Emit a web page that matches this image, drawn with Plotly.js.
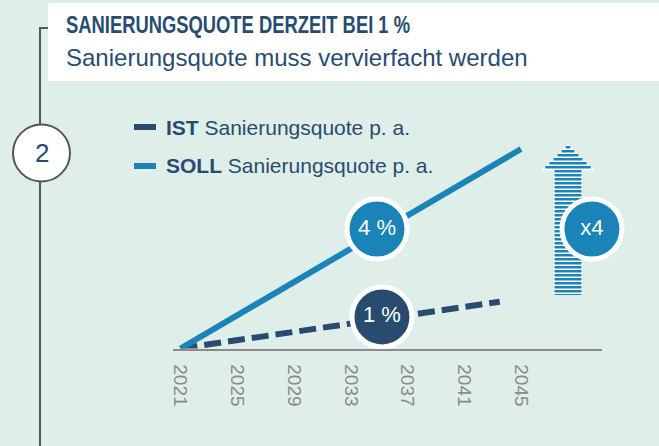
<!DOCTYPE html>
<html><head><meta charset="utf-8">
<script src="https://cdn.plot.ly/plotly-3.0.1.min.js"></script>
<style>html,body{margin:0;padding:0;background:#e0eee9;} #chart{width:659px;height:446px;}</style>
</head><body><div id="chart"></div>
<script>
// ---- data ----
const tickYears = [2021, 2025, 2029, 2033, 2037, 2041, 2045];
const tickLabels = ['2021', '2025', '2029', '2033', '2037', '2041', '2045'];
const istYears = [2021, 2043.5];
const istValues = [0, 22.5];
const sollYears = [2021, 2045];
const sollValues = [0, 96];
const bubbleLabels = ['4 %', '1 %', 'x4'];
const bubbleYears = [2034.85, 2035.2, 2050.0];
const bubbleValues = [57.5, 15.2, 57.5];
const legendNames = ['<b>IST</b> Sanierungsquote p. a.', '<b>SOLL</b> Sanierungsquote p. a.'];
const titleText = 'SANIERUNGSQUOTE DERZEIT BEI 1 %';
const subtitleText = 'Sanierungsquote muss vervierfacht werden';
const stepLabel = '2';

// ---- style ----
const W = 659, H = 446;
const px = v => v / W, py = v => 1 - v / H;
const DARK = '#274c70', LIGHT = '#1a84b8', BG = '#e0eee9', GRAY = '#555555';
const regular = "'Liberation Sans', Arial, sans-serif";
const TITLE_WIDTH = 344;

const traces = [
  {x: istYears, y: istValues, mode: 'lines', line: {color: DARK, width: 6, dash: '17px,7px'}, hoverinfo: 'skip'},
  {x: sollYears, y: sollValues, mode: 'lines', line: {color: LIGHT, width: 6}, hoverinfo: 'skip'},
  {x: bubbleYears, y: bubbleValues, mode: 'markers+text', text: bubbleLabels,
   textposition: 'middle center', textfont: {color: '#ffffff', size: 22, family: regular},
   marker: {size: 60, color: [LIGHT, DARK, LIGHT], line: {color: '#ffffff', width: 5}},
   cliponaxis: false, hoverinfo: 'skip'}
];

// arrow with horizontal stripes (decoration)
function rectPath(x0, y0, x1, y1) {
  return `M${px(x0)},${py(y0)} L${px(x1)},${py(y0)} L${px(x1)},${py(y1)} L${px(x0)},${py(y1)} Z `;
}
const ax = 568, tipY = 145, headY = 170, headHalf = 25.5, shaftHalf = 13.5, baseY = 295;
let stripes = '';
for (let y = tipY + 1; y < baseY; y += 4) {
  const yc = y + 1.3;
  let half = yc < headY ? (yc - tipY) / (headY - tipY) * headHalf : shaftHalf;
  stripes += rectPath(ax - half, y, ax + half, Math.min(y + 2.6, baseY));
}
const arrowOutline = `M${px(ax)},${py(tipY - 1)} L${px(ax + headHalf + 1)},${py(headY + 0.5)} L${px(ax + shaftHalf + 0.5)},${py(headY + 0.5)} L${px(ax + shaftHalf + 0.5)},${py(baseY)} L${px(ax - shaftHalf - 0.5)},${py(baseY)} L${px(ax - shaftHalf - 0.5)},${py(headY + 0.5)} L${px(ax - headHalf - 1)},${py(headY + 0.5)} Z`;

const shapes = [
  {type: 'rect', xref: 'paper', yref: 'paper', x0: px(48), x1: px(659), y0: py(81), y1: py(3), fillcolor: '#ffffff', line: {width: 0}, layer: 'below'},
  {type: 'line', xref: 'paper', yref: 'paper', x0: px(40), x1: px(40), y0: py(28), y1: py(446), line: {color: GRAY, width: 2}, layer: 'below'},
  {type: 'line', xref: 'paper', yref: 'paper', x0: px(39), x1: px(48), y0: py(28), y1: py(28), line: {color: GRAY, width: 2}, layer: 'below'},
  {type: 'circle', xref: 'paper', yref: 'paper', x0: px(13), x1: px(70), y0: py(124.5), y1: py(181.5), fillcolor: '#ffffff', line: {color: GRAY, width: 2}, layer: 'below'},
  {type: 'line', xref: 'paper', yref: 'paper', x0: px(134), x1: px(156), y0: py(127), y1: py(127), line: {color: DARK, width: 6}},
  {type: 'line', xref: 'paper', yref: 'paper', x0: px(134), x1: px(156), y0: py(166), y1: py(166), line: {color: LIGHT, width: 6}},
  {type: 'path', xref: 'paper', yref: 'paper', path: arrowOutline, fillcolor: '#ffffff', line: {width: 0}, layer: 'below'},
  {type: 'path', xref: 'paper', yref: 'paper', path: stripes, fillcolor: LIGHT, line: {width: 0}, layer: 'below'}
];

const annotations = [
  {xref: 'paper', yref: 'paper', x: px(64), y: py(25), xanchor: 'left', yanchor: 'middle', showarrow: false,
   text: '<b>' + titleText + '</b>', font: {family: regular, size: 23, color: DARK}},
  {xref: 'paper', yref: 'paper', x: px(64), y: py(57), xanchor: 'left', yanchor: 'middle', showarrow: false,
   text: subtitleText, font: {family: regular, size: 24, color: DARK}},
  {xref: 'paper', yref: 'paper', x: px(164), y: py(127), xanchor: 'left', yanchor: 'middle', showarrow: false,
   text: legendNames[0], font: {family: regular, size: 21, color: DARK}},
  {xref: 'paper', yref: 'paper', x: px(164), y: py(166), xanchor: 'left', yanchor: 'middle', showarrow: false,
   text: legendNames[1], font: {family: regular, size: 21, color: DARK}},
  {xref: 'paper', yref: 'paper', x: px(41.5), y: py(153), xanchor: 'center', yanchor: 'middle', showarrow: false,
   text: stepLabel, font: {family: regular, size: 26, color: DARK}}
];

const pxPerYear = (521 - 180.5) / 24;
const pxPerUnit = (348.5 - 149) / 96;
const layout = {
  width: W, height: H,
  margin: {l: 0, r: 0, t: 0, b: 0},
  paper_bgcolor: BG, plot_bgcolor: 'rgba(0,0,0,0)',
  showlegend: false,
  xaxis: {
    domain: [px(173), px(602)],
    range: [2021 - (180.5 - 173) / pxPerYear, 2045 + (602 - 521) / pxPerYear],
    tickvals: tickYears, ticktext: tickLabels, tickangle: 90,
    tickfont: {family: regular, size: 19, color: '#8a8a8a'},
    showgrid: false, zeroline: false, showline: true, linecolor: '#8c8c8c', linewidth: 2,
    ticks: '', ticklabelstandoff: 10, fixedrange: true
  },
  yaxis: {
    domain: [py(348.5), py(100)],
    range: [0, (348.5 - 100) / pxPerUnit],
    visible: false, showgrid: false, zeroline: false, fixedrange: true
  },
  shapes: shapes,
  annotations: annotations
};

Plotly.newPlot('chart', traces, layout, {staticPlot: true, displayModeBar: false}).then(function (gd) {
  // condensed look for the bold headline (no narrow font installed)
  const t = gd.querySelector('.annotation .annotation-text');
  if (t) {
    const nat = t.getComputedTextLength();
    const x0 = parseFloat(t.getAttribute('x') || '0');
    t.setAttribute('x', String(x0 - (nat - TITLE_WIDTH) / 2));
    t.setAttribute('textLength', String(TITLE_WIDTH));
    t.setAttribute('lengthAdjust', 'spacingAndGlyphs');
  }
});
</script>
</body></html>
